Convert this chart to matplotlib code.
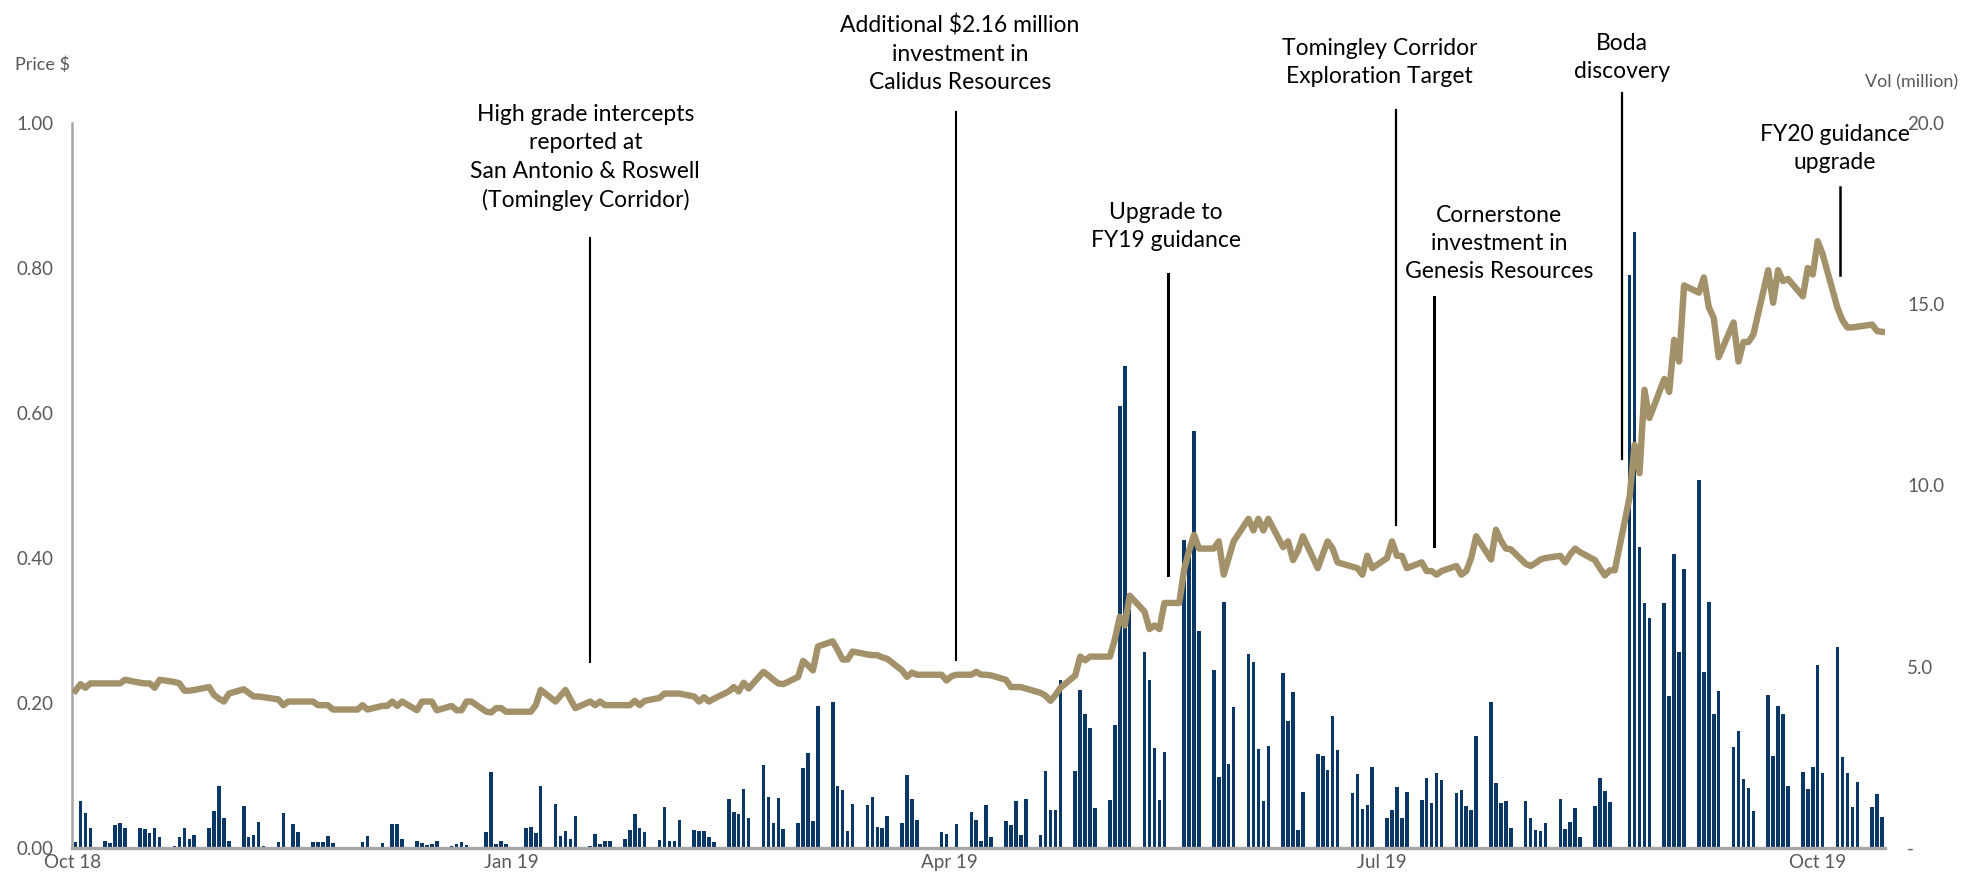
import matplotlib.pyplot as plt
from matplotlib.ticker import FixedLocator

plt.rcParams['font.family'] = ['Lato', 'DejaVu Sans']

# daily volume (million), Mon-Fri per week; first week starts on the Tuesday
volume = [
    0.16, 1.29, 0.96, 0.56,
    0.20, 0.15, 0.64, 0.68, 0.55,
    0.54, 0.52, 0.41, 0.54, 0.29,
    0.05, 0.29, 0.56, 0.24, 0.36,
    0.56, 1.03, 1.72, 0.83, 0.20,
    1.17, 0.29, 0.36, 0.72, 0.06,
    0.16, 0.97, 0.03, 0.66, 0.43,
    0.16, 0.16, 0.16, 0.33, 0.14,
    0.02, 0.00, 0.00, 0.16, 0.34,
    0.14, 0.00, 0.65, 0.67, 0.25,
    0.20, 0.13, 0.07, 0.12, 0.18,
    0.05, 0.10, 0.17, 0.09, 0.01,
    0.44, 2.09, 0.12, 0.20, 0.11,
    0.00, 0.55, 0.58, 0.42, 1.71,
    1.22, 0.33, 0.48, 0.26, 0.89,
    0.06, 0.40, 0.12, 0.20, 0.20,
    0.24, 0.51, 0.93, 0.56, 0.43,
    0.22, 1.14, 0.20, 0.19, 0.77,
    0.51, 0.47, 0.46, 0.31, 0.17,
    1.35, 0.98, 0.94, 1.64, 0.83,
    2.29, 1.42, 0.68, 1.39, 0.52,
    0.70, 2.22, 2.62, 0.74, 3.91,
    4.02, 1.72, 1.61, 0.47, 1.22,
    1.20, 1.40, 0.59, 0.54, 0.87,
    0.70, 2.01, 1.35, 0.76, 0.00,
    0.00, 0.44, 0.40, 0.00, 0.67,
    1.00, 0.76, 0.20, 1.20, 0.31,
    0.74, 0.63, 1.29, 0.37, 1.34,
    0.37, 2.12, 1.04, 1.06, 4.63,
    2.12, 4.35, 3.69, 3.31, 1.09,
    1.33, 3.38, 12.2, 13.3, 6.6,
    5.4, 4.63, 2.76, 1.33, 2.65,
    0.00, 8.5, 8.2, 11.5, 6.0,
    4.92, 1.97, 6.8, 2.32, 3.88,
    5.36, 5.12, 2.73, 1.30, 2.81,
    4.84, 3.50, 4.30, 0.51, 1.54,
    2.58, 2.55, 2.15, 3.65, 2.71,
    1.51, 2.04, 1.08, 1.20, 2.23,
    0.83, 1.04, 1.67, 0.84, 1.54,
    1.33, 1.92, 1.25, 2.08, 1.88,
    1.51, 1.59, 1.15, 1.06, 3.10,
    4.02, 1.80, 1.24, 1.29, 0.54,
    1.29, 0.82, 0.51, 0.46, 0.69,
    1.35, 0.53, 0.72, 1.10, 0.30,
    1.17, 1.93, 1.57, 1.27, 0.00,
    15.8, 17.0, 8.3, 6.75, 6.34,
    6.76, 4.19, 8.1, 5.4, 7.7,
    10.16, 4.86, 6.8, 3.69, 4.34,
    2.78, 3.22, 1.90, 1.66, 1.02,
    4.22, 2.54, 3.92, 3.71, 1.72,
    2.10, 1.63, 2.23, 5.06, 2.06,
    5.54, 2.50, 2.08, 1.12, 1.81,
    1.12, 1.50, 0.86,
]

# closing price ($), same days
price = [
    0.217, 0.226, 0.221, 0.227,
    0.227, 0.227, 0.227, 0.227, 0.232,
    0.228, 0.227, 0.227, 0.221, 0.232,
    0.229, 0.227, 0.217, 0.217, 0.218,
    0.222, 0.211, 0.206, 0.202, 0.213,
    0.219, 0.214, 0.209, 0.209, 0.208,
    0.205, 0.197, 0.202, 0.202, 0.202,
    0.202, 0.197, 0.197, 0.197, 0.191,
    0.191, 0.191, 0.191, 0.197, 0.191,
    0.196, 0.196, 0.202, 0.196, 0.202,
    0.190, 0.202, 0.202, 0.202, 0.190,
    0.196, 0.190, 0.190, 0.202, 0.202,
    0.188, 0.187, 0.193, 0.193, 0.188,
    0.188, 0.188, 0.188, 0.197, 0.218,
    0.202, 0.210, 0.218, 0.205, 0.193,
    0.202, 0.197, 0.202, 0.197, 0.197,
    0.197, 0.197, 0.203, 0.197, 0.203,
    0.207, 0.213, 0.213, 0.213, 0.213,
    0.209, 0.202, 0.208, 0.202, 0.206,
    0.216, 0.222, 0.216, 0.228, 0.220,
    0.243, 0.238, 0.232, 0.227, 0.226,
    0.236, 0.258, 0.252, 0.245, 0.278,
    0.285, 0.273, 0.260, 0.260, 0.271,
    0.267, 0.266, 0.266, 0.263, 0.261,
    0.245, 0.236, 0.242, 0.239, 0.239,
    0.239, 0.239, 0.231, 0.237, 0.239,
    0.239, 0.243, 0.239, 0.239, 0.238,
    0.232, 0.222, 0.222, 0.222, 0.220,
    0.214, 0.210, 0.203, 0.211, 0.221,
    0.238, 0.264, 0.259, 0.264, 0.264,
    0.264, 0.288, 0.319, 0.307, 0.348,
    0.326, 0.302, 0.307, 0.302, 0.338,
    0.338, 0.384, 0.410, 0.432, 0.413,
    0.413, 0.423, 0.377, 0.400, 0.423,
    0.454, 0.438, 0.454, 0.438, 0.454,
    0.415, 0.423, 0.397, 0.410, 0.430,
    0.386, 0.405, 0.423, 0.413, 0.394,
    0.388, 0.386, 0.377, 0.403, 0.386,
    0.400, 0.423, 0.403, 0.403, 0.386,
    0.394, 0.382, 0.382, 0.377, 0.382,
    0.389, 0.377, 0.382, 0.400, 0.430,
    0.398, 0.439, 0.424, 0.413, 0.412,
    0.392, 0.389, 0.393, 0.398, 0.400,
    0.403, 0.394, 0.405, 0.413, 0.408,
    0.397, 0.386, 0.376, 0.383, 0.383,
    0.484, 0.556, 0.517, 0.632, 0.593,
    0.647, 0.629, 0.701, 0.671, 0.776,
    0.766, 0.787, 0.746, 0.731, 0.677,
    0.725, 0.671, 0.698, 0.698, 0.708,
    0.797, 0.752, 0.797, 0.782, 0.785,
    0.761, 0.800, 0.791, 0.837, 0.819,
    0.745, 0.728, 0.718, 0.718, 0.719,
    0.722, 0.713, 0.712,
]

# calendar day index of each trading day (weekends left as gaps)
days = [7 * w + d for w in range(53) for d in range(5)][1:1 + len(volume)]

month_ticks = [0.5, 89, 177.5, 265, 353]
month_labels = ['Oct 18', 'Jan 19', 'Apr 19', 'Jul 19', 'Oct 19']

# (text, text x, text y, line x, line bottom, line top, line width)
events = [
    ('High grade intercepts\nreported at\nSan Antonio & Roswell\n(Tomingley Corridor)', 104.0, 0.952, 105.0, 0.257, 0.842, 1.5),
    ('Additional $2.16 million\ninvestment in\nCalidus Resources', 179.7, 1.095, 178.9, 0.259, 1.015, 1.5),
    ('Upgrade to\nFY19 guidance', 221.3, 0.857, 221.8, 0.377, 0.792, 2.2),
    ('Tomingley Corridor\nExploration Target', 264.5, 1.084, 267.8, 0.446, 1.018, 1.6),
    ('Cornerstone\ninvestment in\nGenesis Resources', 288.6, 0.834, 275.5, 0.416, 0.760, 2.2),
    ('Boda\ndiscovery', 313.5, 1.090, 313.5, 0.537, 1.041, 1.6),
    ('FY20 guidance\nupgrade', 356.5, 0.965, 357.6, 0.790, 0.912, 1.8),
]

gold = '#a3916a'
navy = '#0b3766'
grey = '#595959'

fig = plt.figure(figsize=(19.62, 8.81), dpi=100)
ax = fig.add_axes([72 / 1962, 33 / 881, (1885 - 72) / 1962, 725 / 881])
ax2 = ax.twinx()

ax2.bar(days, volume, width=0.72, color=navy, zorder=2)
ax.plot(days, price, color=gold, lw=4.6, solid_joinstyle='round', zorder=3)

ax.set_zorder(ax2.get_zorder() + 1)
ax.patch.set_visible(False)

ax.set_xlim(0.3, 366.6)
ax.set_ylim(0, 1.0)
ax2.set_ylim(0, 20)

ax.yaxis.set_major_locator(FixedLocator([0, 0.2, 0.4, 0.6, 0.8, 1.0]))
ax.set_yticklabels(['0.00', '0.20', '0.40', '0.60', '0.80', '1.00'])
ax2.yaxis.set_major_locator(FixedLocator([0, 5, 10, 15, 20]))
ax2.set_yticklabels(['-', '5.0', '10.0', '15.0', '20.0'])
ax.set_xticks(month_ticks)
ax.set_xticklabels(month_labels)

ax.tick_params(axis='y', length=0, pad=13, labelsize=13.5, labelcolor=grey)
ax.tick_params(axis='x', length=0, pad=4, labelsize=13.5, labelcolor=grey)
ax2.tick_params(axis='y', length=0, pad=16, labelsize=13.5, labelcolor=grey)

for a in (ax, ax2):
    a.spines['top'].set_visible(False)
    a.spines['right'].set_visible(False)
ax2.spines['left'].set_visible(False)
ax2.spines['bottom'].set_visible(False)
ax.spines['left'].set_color('#a6a6a6')
ax.spines['left'].set_linewidth(1.8)
ax.spines['bottom'].set_color('#a6a6a6')
ax.spines['bottom'].set_linewidth(2.4)

for text, tx, ty, lx, y0, y1, lw in events:
    ax.plot([lx, lx], [y0, y1], color='black', lw=lw, clip_on=False, zorder=4)
    ax.text(tx, ty, text, ha='center', va='center', fontsize=16.5,
            linespacing=1.42, color='black', clip_on=False)

fig.text(15 / 1962, 1 - 65 / 881, 'Price $', fontsize=13, color=grey, va='center')
fig.text(1958 / 1962, 1 - 82 / 881, 'Vol (million)', fontsize=13, color=grey,
         va='center', ha='right')

fig.savefig('out.png', dpi=100)
